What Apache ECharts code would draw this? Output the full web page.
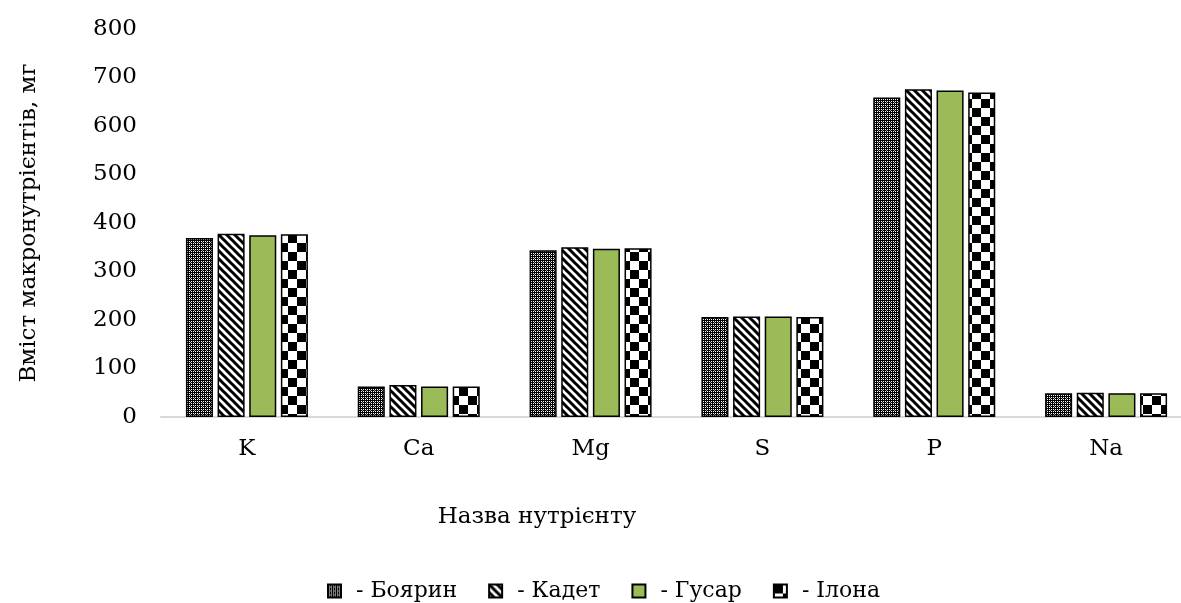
<!DOCTYPE html>
<html>
<head>
<meta charset="utf-8">
<script src="https://cdn.jsdelivr.net/npm/echarts@6/dist/echarts.min.js"></script>
<style>
  html, body { margin: 0; padding: 0; background: #fff; }
  #chart { width: 1181px; height: 603px; }
</style>
</head>
<body>
<div id="chart"></div>
<script>
var categories = ['K', 'Ca', 'Mg', 'S', 'P', 'Na'];
var seriesNames = ['Боярин', 'Кадет', 'Гусар', 'Ілона'];
var boyarin = [369, 63, 344, 206, 659, 49];
var kadet = [378, 66, 350, 207, 676, 50];
var gusar = [375, 63, 347, 207, 673, 49];
var ilona = [377, 63, 348, 206, 669, 49];
var yTicks = [0, 100, 200, 300, 400, 500, 600, 700, 800];

var FONT = '"DejaVu Serif", "Liberation Serif", serif';

// pattern tiles
function tile(size, draw) {
    var c = document.createElement('canvas');
    c.width = size; c.height = size;
    var ctx = c.getContext('2d');
    draw(ctx, size);
    return { image: c, repeat: 'repeat' };
}

var dotPattern = tile(4, function (ctx, s) {
    ctx.fillStyle = '#000';
    ctx.fillRect(0, 0, s, s);
    ctx.fillStyle = '#fff';
    ctx.fillRect(1, 1, 1, 1);
    ctx.fillRect(3, 3, 1, 1);
    ctx.fillRect(3, 1, 1, 1);
    ctx.fillRect(1, 3, 1, 1);
    ctx.fillStyle = '#999';
    ctx.fillRect(2, 2, 1, 1);
});

var stripePattern = tile(8, function (ctx, s) {
    ctx.fillStyle = '#fff';
    ctx.fillRect(0, 0, s, s);
    ctx.strokeStyle = '#000';
    ctx.lineWidth = 3;
    ctx.beginPath();
    ctx.moveTo(-s, -s); ctx.lineTo(2 * s, 2 * s);
    ctx.moveTo(0, -s); ctx.lineTo(2 * s, s);
    ctx.moveTo(-s, 0); ctx.lineTo(s, 2 * s);
    ctx.stroke();
});

var checkPattern = tile(18, function (ctx, s) {
    ctx.fillStyle = '#fff';
    ctx.fillRect(0, 0, s, s);
    ctx.fillStyle = '#000';
    ctx.fillRect(0, 0, 9, 9);
    ctx.fillRect(9, 9, 9, 9);
});

var fills = [dotPattern, stripePattern, '#9BBB59', checkPattern];
var values = [boyarin, kadet, gusar, ilona];

var series = seriesNames.map(function (name, i) {
    return {
        name: name,
        type: 'bar',
        data: values[i],
        barGap: '17%',
        barCategoryGap: '29%',
        itemStyle: {
            color: fills[i],
            borderColor: '#000',
            borderWidth: 1.5
        }
    };
});

var chart = echarts.init(document.getElementById('chart'));
chart.setOption({
    backgroundColor: '#fff',
    animation: false,
    textStyle: { fontFamily: FONT },
    title: {
        text: 'Назва нутрієнту',
        left: 532,
        top: 512,
        textAlign: 'center',
        textVerticalAlign: 'middle',
        textStyle: { fontFamily: FONT, fontSize: 23, fontWeight: 'normal', color: '#000' }
    },
    legend: {
        data: seriesNames,
        icon: 'rect',
        left: 322,
        top: 575,
        itemWidth: 13,
        itemHeight: 13,
        itemGap: 31,
        formatter: function (n) { return '- ' + n; },
        textStyle: { fontFamily: FONT, fontSize: 22, color: '#000', padding: [0, 0, 0, 10] }
    },
    grid: {
        left: 161,
        width: 1031,
        top: 29,
        bottom: 186,
        outerBoundsMode: 'none'
    },
    xAxis: {
        type: 'category',
        data: categories,
        axisLine: { lineStyle: { color: '#d9d9d9', width: 2 } },
        axisTick: { show: false },
        axisLabel: { color: '#000', fontSize: 23, fontFamily: FONT, margin: 21 }
    },
    yAxis: {
        type: 'value',
        min: 0,
        max: 800,
        interval: 100,
        name: 'Вміст макронутрієнтів, мг',
        nameLocation: 'middle',
        nameGap: 120,
        nameTextStyle: { color: '#000', fontSize: 23, fontFamily: FONT },
        axisLine: { show: false },
        axisTick: { show: false },
        splitLine: { show: false },
        axisLabel: {
            color: '#000',
            fontSize: 23,
            fontFamily: FONT,
            margin: 24,
            formatter: function (v) { return yTicks.indexOf(v) >= 0 ? String(v) : ''; }
        }
    },
    series: series
});
</script>
</body>
</html>
